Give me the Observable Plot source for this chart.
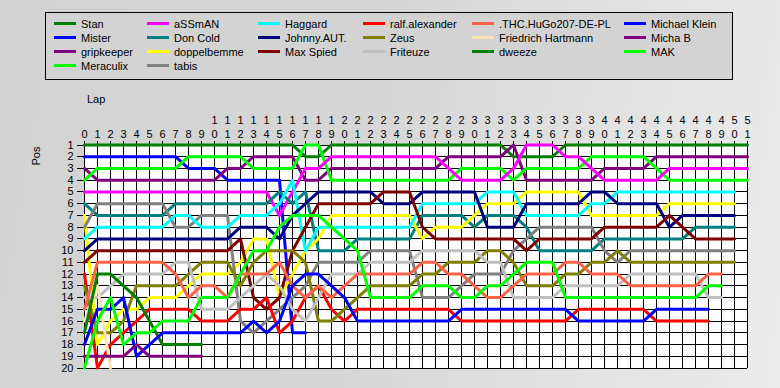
<!DOCTYPE html>
<html><head><meta charset="utf-8">
<script src="https://cdn.jsdelivr.net/npm/d3@7"></script>
<script src="https://cdn.jsdelivr.net/npm/@observablehq/plot@0.6"></script>
<style>
html,body{margin:0;padding:0;}
body{width:780px;height:388px;overflow:hidden;}
#wrap{position:relative;width:780px;height:388px;background:linear-gradient(100deg,#d3d3d3 0%,#d6d6d6 45%,#ececec 100%);font-family:"Liberation Sans",Arial,sans-serif;font-size:11px;color:#000;}
#chart{position:absolute;left:0;top:0;}
#legend{position:absolute;left:45px;top:12px;width:688px;height:68px;box-sizing:border-box;border:1px solid #000;background:#d3d3d3;}
.item{position:absolute;height:14px;line-height:14px;white-space:nowrap;}
.sw{position:absolute;top:5px;left:0;width:22px;height:3px;}
.lb{position:absolute;left:27px;top:0;}
#lapLabel{position:absolute;left:87px;top:93px;line-height:13px;}
#posLabel{position:absolute;left:21px;top:149px;width:30px;height:14px;line-height:14px;text-align:center;transform:rotate(-90deg);}
</style></head><body>
<div id="wrap"><div id="chart"></div><div id="legend"></div><div id="lapLabel">Lap</div><div id="posLabel">Pos</div></div>
<script>
const drivers = ["Stan","Mister","gripkeeper","Meraculix","aSSmAN","Don Cold","doppelbemme","tabis","Haggard","Johnny.AUT.","Max Spied","ralf.alexander","Zeus","Friteuze",".THC.HuGo207-DE-PL","Friedrich Hartmann","dweeze","Michael Klein","Micha B","MAK"];
const colors = ["#008000","#0000ff","#800080","#00ff00","#ff00ff","#008080","#ffff00","#808080","#00ffff","#000080","#800000","#ff0000","#808000","#c0c0c0","#ff6347","#ffe4b5","#008000","#0000ff","#800080","#00ff00"];

const stan = [1,1,1,1,1,1,1,1,1,1,1,1,1,1,1,1,1,2,2,1,1,1,1,1,1,1,1,1,1,1,1,1,1,2,2,2,2,1,1,1,1,1,1,1,1,1,1,1,1,1,1,1];
const mister = [2,2,2,2,2,2,2,2,3,3,3,4,4,4,4,4,17,17];
const gripkeeper = [3,4,4,4,4,4,4,4,4,4,4,3,3,2,2,2,2,4,4,3,3,3,3,3,3,3,3,3,2,2,2,2,2,1,4,4,4,4,4,4,3,3,3,3,2,2,2,2,2,2,2,2];
const meraculix = [4,3,3,3,3,3,3,3,2,2,2,2,2,3,3,3,3,1,1,4,4,4,4,4,4,4,4,4,4,3,3,3,3,4,3,3,3,3,3,2,2,2,2,2,3,4,4,4,4,4,4,4];
const assman = [5,5,5,5,5,5,5,5,5,5,5,5,5,5,5,7,5,3,3,2,2,2,2,2,2,2,2,2,3,4,4,4,4,3,1,1,1,2,2,3,4,4,4,4,4,3,3,3,3,3,3,3];
const donCold = [6,7,7,7,7,7,7,6,6,6,6,6,6,6,6,5,6,5,10,10,10,9,9,9,9,9,7,7,7,7,8,7,7,7,8,10,10,10,10,10,9,9,9,9,9,9,9,8,8,8,8];
const doppelbemme = [7,18,16,15,15,14,14,14,13,12,12,12,11,9,9,14,12,10,9,7,7,7,7,7,7,7,9,8,8,8,7,6,6,6,5,5,5,5,5,7,7,7,7,7,7,6,6,6,6,6,6];
const tabis = [8,6,6,6,6,6,6,8,8,7,7,7,16,17,16,15,14,13,11,11,11,11,10,10,10,10,14,14,14,13,12,12,12,10,9,8,8,8,8,8,10,11,10,10,10,10,10,10,10,10,10];
const haggard = [9,8,8,8,8,8,8,7,7,8,8,8,7,7,7,6,4,10,8,8,8,8,8,8,8,8,6,6,6,6,6,5,5,5,7,7,7,7,7,6,6,5,5,5,5,5,5,5,5,5,5];
const johnny = [10,9,9,9,9,9,9,9,9,9,9,9,8,8,8,9,7,6,5,5,5,5,5,6,6,6,5,5,5,5,5,8,8,8,6,6,6,6,6,5,5,6,6,6,6,8,7,7,7,7,7];
const maxSpied = [11,10,10,10,10,10,10,10,10,10,10,10,9,14,15,14,10,8,6,6,6,6,6,5,5,5,8,9,9,9,9,9,9,9,10,9,9,9,9,9,8,8,8,8,8,7,8,9,9,9,9];
const ralf = [12,20,18,17,16,15,15,15,15,16,16,16,15,15,14,17,16,14,13,15,16,15,15,15,15,15,15,15,15,16,16,16,16,16,16,16,16,16,15,15,15,15,15,15,16,16,16,16,16];
const zeus = [13,17,17,16,13,13,13,13,12,11,11,11,13,11,10,10,10,11,16,16,15,14,13,13,13,13,12,12,11,11,11,10,10,11,13,13,13,12,12,11,11,10,11,11,11,11,11,11,11,11,11];
const friteuze = [14,14,13,12,12,12,12,11,11,15,15,15,14,13,12,13,15,16,14,12,12,12,11,11,11,11,10,10,10,10,10,11,11,14,14,14,14,13,13,13,13,13,12,12,12,12,12,12,14,14];
const thc = [15,11,11,11,11,11,11,12,14,13,13,14,12,12,12,11,13,14,13,14,13,12,12,12,12,12,11,11,12,12,13,14,14,13,12,12,12,11,11,12,12,12,13,13,13,13,13,13,12,12];
const friedrich = [16,13,20];
const dweeze = [17,12,12,13,14,16,18,18,18,18];
const michaelKlein = [18,15,15,14,19,18,17,17,17,17,17,17,17,16,17,16,13,12,12,13,14,16,16,16,16,16,16,16,16,15,15,15,15,15,15,15,15,15,16,16,16,16,16,16,15,15,15,15,15];
const michaB = [19,19,19,19,18,19,19,19,19,19];
const mak = [20,16,14,18,17,17,16,16,16,14,14,14,12,10,10,8,7,7,7,8,9,10,14,14,14,14,13,13,13,14,14,13,13,12,11,11,11,14,14,14,14,14,14,14,14,14,14,14,13,13];

const series = [stan,mister,gripkeeper,meraculix,assman,donCold,doppelbemme,tabis,haggard,johnny,maxSpied,ralf,zeus,friteuze,thc,friedrich,dweeze,michaelKlein,michaB,mak];
const laps = d3.range(0, 52);
const posTicks = d3.range(1, 21);
const legendColumns = [[0,1,2,3],[4,5,6,7],[8,9,10],[11,12,13],[14,15,16],[17,18,19]];

const rows = [];
series.forEach((vals, i) => vals.forEach((p, lap) => rows.push({driver: drivers[i], order: i, lap, pos: p})));

const chart = Plot.plot({
  width: 780, height: 388,
  marginLeft: 84, marginRight: 33, marginTop: 144.5, marginBottom: 20.5,
  x: {domain: [0, 51]},
  y: {domain: [20, 1]},
  style: {background: "transparent", fontFamily: "Liberation Sans, Arial, sans-serif", fontSize: "11px", color: "#000"},
  marks: [
    Plot.frame({fill: "white", stroke: "none"}),
    Plot.ruleY(posTicks, {y: d => d, x1: -0.55, x2: 51, stroke: "#000", strokeWidth: 1, shapeRendering: "crispEdges"}),
    Plot.ruleX(laps, {x: d => d, y1: 0.66, y2: 20, stroke: "#000", strokeWidth: 1, shapeRendering: "crispEdges"}),
    Plot.axisY({anchor: "left", ticks: posTicks, tickSize: 0, tickPadding: 11, tickFormat: d => String(d), label: null}),
    Plot.axisX({anchor: "top", ticks: laps, tickSize: 0, tickPadding: 7, tickFormat: d => String(d % 10), label: null}),
    Plot.axisX({anchor: "top", ticks: laps, tickSize: 0, tickPadding: 21, tickFormat: d => d >= 10 ? String(Math.floor(d / 10)) : "", label: null}),
    ...drivers.map((name, i) => Plot.line(rows.filter(d => d.order === i), {x: "lap", y: "pos", stroke: colors[i], strokeWidth: 3}))
  ]
});
document.getElementById("chart").appendChild(chart);

const legend = document.getElementById("legend");
const colLeft = [8, 101, 212, 317, 426, 578];
const rowTop = [4, 18, 32, 46];
legendColumns.forEach((col, c) => col.forEach((idx, r) => {
  const it = document.createElement("div");
  it.className = "item";
  it.style.left = colLeft[c] + "px";
  it.style.top = rowTop[r] + "px";
  const sw = document.createElement("div");
  sw.className = "sw";
  sw.style.background = colors[idx];
  const lb = document.createElement("div");
  lb.className = "lb";
  lb.textContent = drivers[idx];
  it.appendChild(sw); it.appendChild(lb);
  legend.appendChild(it);
}));
</script>
</body></html>
